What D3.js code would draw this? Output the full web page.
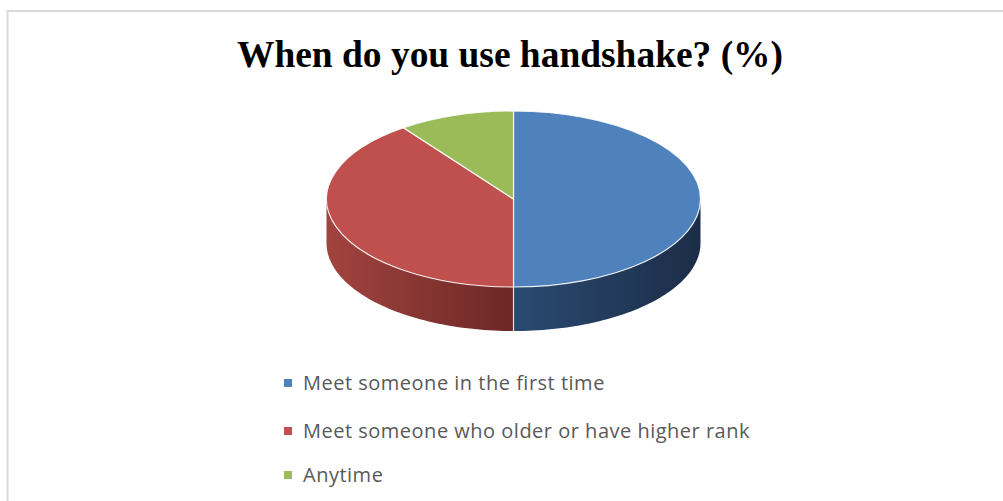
<!DOCTYPE html>
<html><head><meta charset="utf-8">
<script src="https://cdn.jsdelivr.net/npm/d3@7"></script>
<style>html,body{margin:0;padding:0;background:#fff;}svg{display:block;}</style>
</head><body>
<script>
const title = "When do you use handshake? (%)";
const categories = ["Meet someone in the first time", "Meet someone who older or have higher rank", "Anytime"];
const values = [50, 40, 10];
const colors = ["#4f81bd", "#c0504d", "#9bbb59"];
const sideLight = ["#2a4a72", "#a2433f", "#7a9a45"];
const sideDark = ["#1c2d47", "#6c2826", "#5b7434"];

const W = 1003, H = 501;
const svg = d3.select("body").append("svg").attr("width", W).attr("height", H);

// frame
svg.append("rect").attr("x", 7.5).attr("y", 11).attr("width", W + 10).attr("height", H + 10)
  .attr("fill", "#fff").attr("stroke", "#d9d9d9").attr("stroke-width", 2);

// title
svg.append("text").attr("x", 510).attr("y", 67).attr("text-anchor", "middle")
  .attr("font-family", "Liberation Serif, Times New Roman, serif").attr("font-weight", "bold")
  .attr("font-size", 38).attr("textLength", 546).attr("lengthAdjust", "spacingAndGlyphs")
  .attr("fill", "#000").text(title);

const cx = 513.5, cy = 199, rx = 187, ry = 88, depth = 44;
const pie = d3.pie().sort(null).value(d => d)(values);
const pt = (a, dy = 0) => [cx + rx * Math.sin(a), cy - ry * Math.cos(a) + dy];

const defs = svg.append("defs");

// sides (front half only)
pie.forEach((p, i) => {
  const a0 = Math.max(p.startAngle, Math.PI / 2), a1 = Math.min(p.endAngle, 3 * Math.PI / 2);
  if (a1 <= a0) return;
  const N = 60;
  const top = d3.range(N + 1).map(k => pt(a0 + (a1 - a0) * k / N));
  const bot = top.slice().reverse().map(([x, y]) => [x, y + depth]);
  const xs = top.map(d => d[0]);
  const gid = "g" + i;
  const g = defs.append("linearGradient").attr("id", gid).attr("gradientUnits", "userSpaceOnUse")
    .attr("x1", d3.min(xs)).attr("x2", d3.max(xs)).attr("y1", 0).attr("y2", 0);
  g.append("stop").attr("offset", 0).attr("stop-color", sideLight[i]);
  g.append("stop").attr("offset", 1).attr("stop-color", sideDark[i]);
  svg.append("path").attr("d", d3.line()(top.concat(bot)) + "Z").attr("fill", `url(#${gid})`)
    .attr("stroke", "none");
});
{
  const [x, y] = pt(Math.PI);
  svg.append("line").attr("x1", x).attr("x2", x).attr("y1", y).attr("y2", y + depth)
    .attr("stroke", "#ffffff").attr("stroke-opacity", 0.8).attr("stroke-width", 1.2);
}

// top face
const arc = d3.arc().innerRadius(0).outerRadius(rx);
const topG = svg.append("g").attr("transform", `translate(${cx},${cy}) scale(1,${ry / rx})`);
topG.selectAll("path").data(pie).join("path").attr("d", arc)
  .attr("fill", (d, i) => colors[i]).attr("stroke", "#ffffff").attr("stroke-opacity", 0.85)
  .attr("stroke-width", 1.2).attr("vector-effect", "non-scaling-stroke");

// legend
const legendX = 288, legendY = [383, 431, 475];
categories.forEach((c, i) => {
  svg.append("rect").attr("x", legendX - 4).attr("y", legendY[i] - 4).attr("width", 8).attr("height", 8)
    .attr("fill", colors[i]);
  svg.append("text").attr("x", 303).attr("y", legendY[i]).attr("dy", "0.35em")
    .attr("font-family", "Open Sans, Liberation Sans, sans-serif").attr("font-size", 20)
    .attr("letter-spacing", 0.5).attr("fill", "#595959").text(c);
});
</script>
</body></html>
